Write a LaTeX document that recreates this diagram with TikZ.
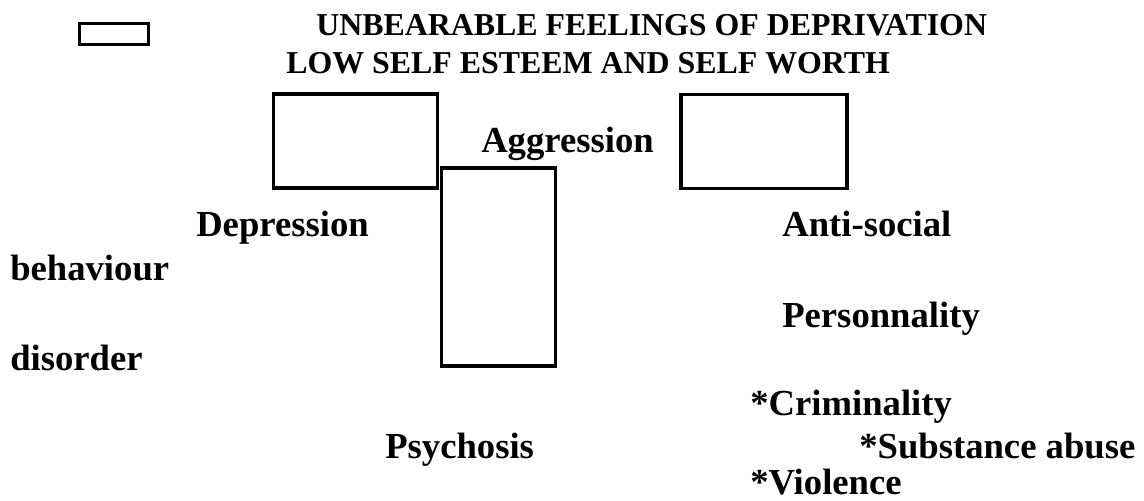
\documentclass[tikz,border=0pt]{standalone}
\usepackage{fontspec}
\setmainfont{Liberation Serif}
\usepackage{tikz}
\usetikzlibrary{positioning}

\tikzset{
  blank/.style={draw, line width=2.4pt, inner sep=0pt},
  head/.style={anchor=base west, inner sep=0pt, font=\fontsize{23.9}{26}\selectfont\bfseries},
  lbl/.style={anchor=base west, inner sep=0pt, font=\fontsize{27.5}{30}\selectfont\bfseries}
}

\begin{document}
\begin{tikzpicture}[x=0.75pt, y=-0.75pt]
    \useasboundingbox (0,0) rectangle (1144,500);

    % Title
    \node[blank, line width=1.8pt, minimum width=52pt, minimum height=16pt] (key) at (114,34) {};
    \node[head] (title1) at (316,35) {UNBEARABLE FEELINGS OF DEPRIVATION};
    \node[head] (title2) at (286,73) {LOW SELF ESTEEM AND SELF WORTH};

    % Empty boxes
    \node[blank, minimum width=123pt, minimum height=70.5pt] (boxA) at (355.5,141) {};
    \node[blank, minimum width=124.5pt, minimum height=71pt] (boxB) at (764,141.5) {};
    \node[blank, minimum width=86pt, minimum height=148.5pt] (boxC) at (498.5,267) {};

    % Labels
    \node[lbl] (aggr) at (481,152) {Aggression};
    \node[lbl] (depr) at (196,236) {Depression};
    \node[lbl] (anti) at (782,236) {Anti-social};
    \node[lbl] (behav) at (10,280) {behaviour};
    \node[lbl] (pers) at (782,327) {Personnality};
    \node[lbl] (disord) at (10,370) {disorder};
    \node[lbl] (crim) at (750,415) {*Criminality};
    \node[lbl] (psych) at (385,458) {Psychosis};
    \node[lbl] (subst) at (859,458) {*Substance abuse};
    \node[lbl] (viol) at (750,494) {*Violence};
\end{tikzpicture}
\end{document}
